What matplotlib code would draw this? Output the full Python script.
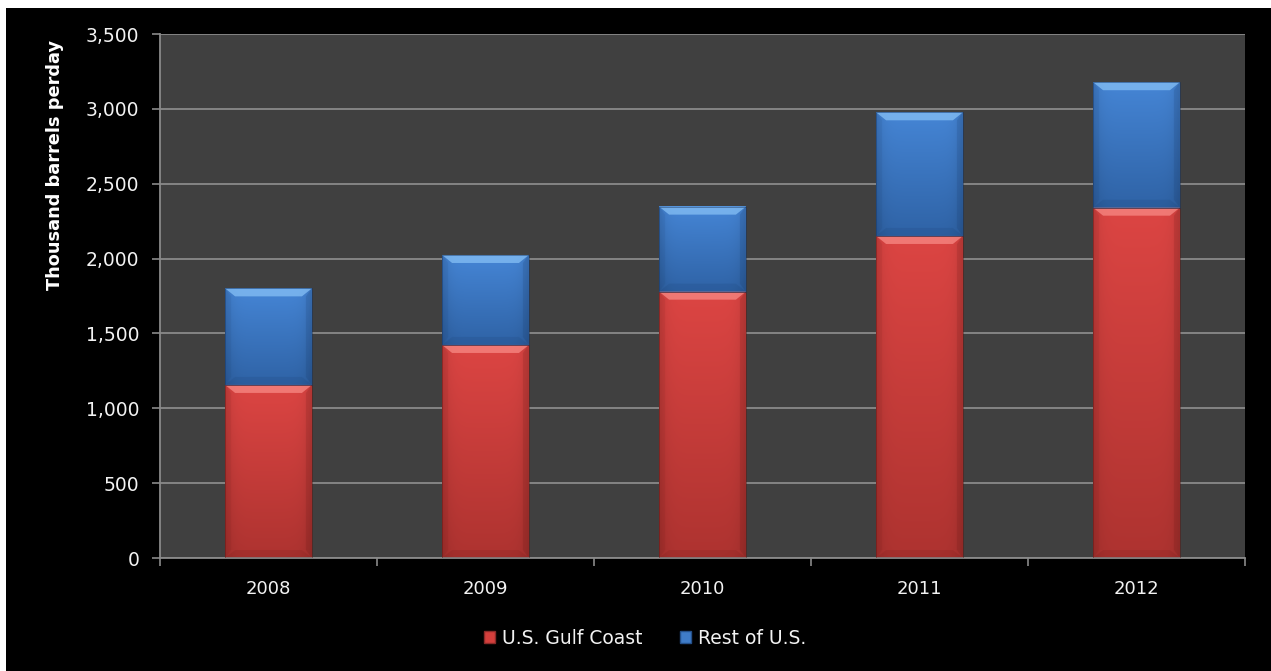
import numpy as np
import matplotlib
matplotlib.use("Agg")
import matplotlib.pyplot as plt
from matplotlib.patches import Polygon, Rectangle, Patch
from matplotlib.colors import to_rgb

years = ["2008", "2009", "2010", "2011", "2012"]
gulf_coast = [1156, 1423, 1779, 2151, 2340]
rest_of_us = [645, 601, 568, 826, 838]
y_ticks = [0, 500, 1000, 1500, 2000, 2500, 3000, 3500]
series_names = ["U.S. Gulf Coast", "Rest of U.S."]

W, H = 1271, 671
fig = plt.figure(figsize=(W / 100, H / 100), dpi=100, facecolor="white")
# black chart area inside thin white border
fig.patches.append(Rectangle((6 / W, 0), 1 - 6 / W, 1 - 8 / H, transform=fig.transFigure,
                             facecolor="black", edgecolor="none", zorder=-10))

ax_l, ax_r, ax_t, ax_b = 160, 1245, 34, 558
ax = fig.add_axes([ax_l / W, 1 - ax_b / H, (ax_r - ax_l) / W, (ax_b - ax_t) / H])
ax.set_facecolor("#404040")

x = np.arange(len(years))
bw = 0.4
bars_red = ax.bar(x, gulf_coast, width=bw, color="none", zorder=2)
bars_blue = ax.bar(x, rest_of_us, bottom=gulf_coast, width=bw, color="none", zorder=2)

ax.set_xlim(-0.5, len(years) - 0.5)
ax.set_ylim(0, 3500)

px_x = (len(years)) / (ax_r - ax_l)
px_y = 3500 / (ax_b - ax_t)


def shade(rect, top_c, bot_c, light, dark):
    x0, y0 = rect.get_x(), rect.get_y()
    w, h = rect.get_width(), rect.get_height()
    x1, y1 = x0 + w, y0 + h
    n, m = 80, 60
    t = np.linspace(0, 1, n)[:, None, None]
    tc, bc = np.array(to_rgb(top_c)), np.array(to_rgb(bot_c))
    img = tc * (1 - t) + bc * t
    u = np.linspace(-1, 1, m)[None, :, None]
    img = img * (1 - 0.12 * np.abs(u) ** 6)
    img = np.broadcast_to(img, (n, m, 3)).copy()
    ax.imshow(np.clip(img, 0, 1), extent=(x0, x1, y0, y1), aspect="auto",
              origin="upper", zorder=2, interpolation="bilinear")
    bx, by = 10 * px_x, 8 * px_y
    by = min(by, h / 2)
    ax.add_patch(Polygon([(x0, y1), (x1, y1), (x1 - bx, y1 - by), (x0 + bx, y1 - by)],
                         closed=True, facecolor=light, edgecolor="none", alpha=0.75, zorder=3))
    ax.add_patch(Polygon([(x0, y1), (x0 + bx * 0.6, y1 - by), (x0 + bx * 0.6, y0 + by), (x0, y0)],
                         closed=True, facecolor=dark, edgecolor="none", alpha=0.08, zorder=3))
    ax.add_patch(Polygon([(x1, y1), (x1 - bx * 0.6, y1 - by), (x1 - bx * 0.6, y0 + by), (x1, y0)],
                         closed=True, facecolor=dark, edgecolor="none", alpha=0.15, zorder=3))
    ax.add_patch(Polygon([(x0, y0), (x1, y0), (x1 - bx, y0 + by), (x0 + bx, y0 + by)],
                         closed=True, facecolor=dark, edgecolor="none", alpha=0.12, zorder=3))
    ax.add_patch(Rectangle((x0, y0), w, h, facecolor="none", edgecolor=dark,
                           linewidth=0.7, alpha=0.45, zorder=4))


for r in bars_red:
    shade(r, "#DC4543", "#AE3330", "#F88A85", "#5A1512")
for r in bars_blue:
    shade(r, "#4585D5", "#2F63A6", "#86C0F5", "#14325E")

ax.set_xlim(-0.5, len(years) - 0.5)
ax.set_ylim(0, 3500)

ax.set_yticks(y_ticks)
ax.set_yticklabels([f"{v:,}" for v in y_ticks])
ax.yaxis.grid(True, color="#8A8A8A", linewidth=1.3, zorder=1)
ax.set_axisbelow(True)

ax.set_xticks(x)
ax.set_xticklabels(years)
ax.set_xticks(np.arange(-0.5, len(years)), minor=True)
ax.tick_params(axis="x", which="major", length=0, pad=16, labelsize=13, labelcolor="#F2F2F2")
ax.tick_params(axis="x", which="minor", length=6, width=1.2, color="#8A8A8A", direction="out")
ax.tick_params(axis="y", length=6, width=1.2, color="#8A8A8A", pad=9, labelsize=13.5,
               labelcolor="#F2F2F2")

for s in ["top", "right"]:
    ax.spines[s].set_visible(False)
for s in ["left", "bottom"]:
    ax.spines[s].set_color("#8A8A8A")
    ax.spines[s].set_linewidth(1.3)

fig.text(55 / W, 1 - 165 / H, "Thousand barrels perday", rotation=90, ha="center", va="center",
         color="white", fontsize=12.8, fontweight="bold")

handles = [Patch(facecolor="#D43F3C", edgecolor="#8A2A28"),
           Patch(facecolor="#3F7CC8", edgecolor="#24508A")]
fig.legend(handles, series_names, loc="center", bbox_to_anchor=(645 / W, 1 - 638 / H), ncol=2,
           frameon=False, fontsize=13.5, labelcolor="#F2F2F2", handlelength=0.6,
           handleheight=0.6, handletextpad=0.35, columnspacing=2.0)

fig.savefig("out.png", dpi=100, facecolor="white")
